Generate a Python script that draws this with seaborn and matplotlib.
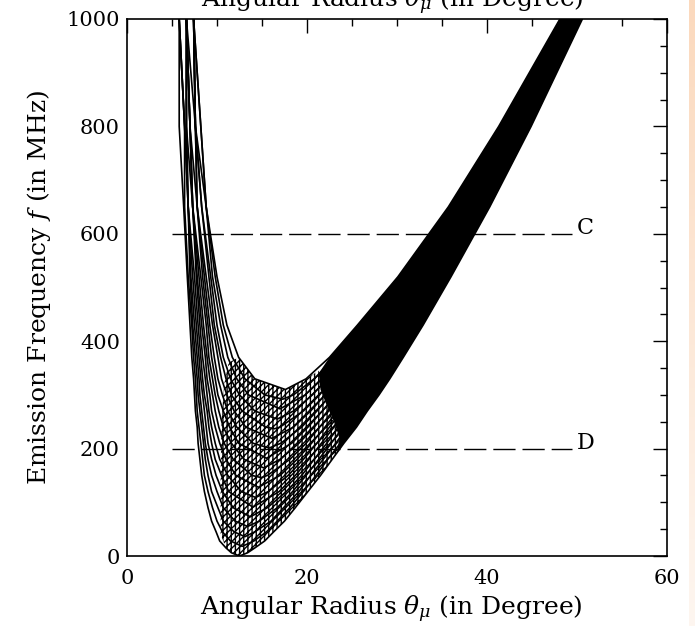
import numpy as np
import pandas as pd
import matplotlib
matplotlib.use('Agg')
import matplotlib.pyplot as plt
import seaborn as sns
from matplotlib.ticker import MultipleLocator

# ---------------- data (read / estimated from the reference) ----------------
# frequency levels (MHz) at which each curve's branches are sampled, top -> bottom
F_LEVELS = [1000, 800, 650, 520, 430, 370, 330, 300, 270, 240, 210, 180, 150, 120, 90, 65, 45, 28, 15, 6]

# minimum of each curve (angular radius in degree, frequency in MHz)
MIN_X = [12.5, 12.8, 13.1, 13.4, 13.7, 14.0, 14.3, 14.6, 14.9, 15.2, 15.5, 15.8, 16.1, 16.4, 16.7, 17.0, 17.3, 17.6]
MIN_F = [0, 18, 36, 55, 73, 91, 109, 128, 146, 164, 182, 201, 219, 237, 255, 274, 292, 310]

# left (descending) branch: angular radius at F_LEVELS (down to the curve minimum)
LEFT_X = [
    [5.8, 5.8, 6.3, 6.7, 7.0, 7.2, 7.4, 7.5, 7.6, 7.8, 7.9, 8.1, 8.3, 8.6, 9.0, 9.4, 9.9, 10.3, 11.0, 11.6],
    [5.8, 6.4, 6.4, 6.8, 7.2, 7.4, 7.6, 7.7, 7.8, 8.0, 8.2, 8.4, 8.6, 9.0, 9.5, 10.0, 10.6, 11.5],
    [5.8, 6.4, 6.8, 7.0, 7.3, 7.6, 7.8, 7.9, 8.1, 8.3, 8.5, 8.7, 9.0, 9.4, 10.1, 10.7, 11.9],
    [5.8, 6.4, 6.8, 7.1, 7.5, 7.8, 8.0, 8.1, 8.3, 8.5, 8.7, 9.0, 9.4, 10.0, 10.7, 12.0],
    [6.6, 6.6, 6.8, 7.3, 7.7, 8.0, 8.2, 8.4, 8.6, 8.8, 9.0, 9.4, 9.9, 10.6, 11.8],
    [6.6, 6.6, 6.8, 7.5, 7.9, 8.2, 8.4, 8.6, 8.9, 9.1, 9.4, 9.8, 10.5, 11.3],
    [6.6, 6.6, 7.3, 7.7, 8.1, 8.4, 8.7, 8.9, 9.1, 9.4, 9.8, 10.3, 11.2, 12.7],
    [6.6, 7.0, 7.3, 7.8, 8.3, 8.7, 8.9, 9.2, 9.4, 9.8, 10.3, 11.0, 12.1],
    [6.6, 7.0, 7.3, 8.0, 8.5, 8.9, 9.2, 9.5, 9.8, 10.2, 10.8, 11.8, 13.9],
    [6.6, 7.0, 7.3, 8.2, 8.8, 9.1, 9.5, 9.8, 10.2, 10.7, 11.6, 13.0],
    [6.6, 7.0, 7.8, 8.4, 9.0, 9.4, 9.8, 10.1, 10.7, 11.4, 12.4],
    [6.6, 7.6, 7.8, 8.6, 9.2, 9.7, 10.1, 10.6, 11.2, 12.2, 14.0],
    [7.4, 7.6, 7.8, 8.8, 9.5, 10.1, 10.5, 11.1, 11.9, 13.2],
    [7.4, 7.6, 8.3, 9.1, 9.7, 10.4, 11.0, 11.6, 12.8, 15.4],
    [7.4, 7.6, 8.3, 9.3, 10.0, 10.7, 11.5, 12.5, 14.2],
    [7.4, 7.6, 8.8, 9.5, 10.4, 11.2, 12.2, 13.5],
    [7.4, 8.2, 8.8, 9.8, 10.7, 11.7, 13.1, 15.3],
    [7.4, 8.2, 8.8, 10.0, 11.1, 12.4, 14.2],
]

# right (rising) branch: angular radius at F_LEVELS (same order, top -> bottom)
RIGHT_X = [
    [50.6, 44.9, 40.3, 36.0, 32.9, 30.7, 29.2, 28.0, 26.7, 25.5, 24.1, 22.8, 21.5, 20.1, 18.7, 17.5, 16.3, 15.3, 14.2, 13.4],
    [50.5, 44.7, 40.1, 35.7, 32.6, 30.4, 28.8, 27.6, 26.3, 25.0, 23.7, 22.3, 21.0, 19.6, 18.1, 16.7, 15.5, 14.1],
    [50.3, 44.5, 39.9, 35.5, 32.2, 30.0, 28.4, 27.1, 25.9, 24.5, 23.2, 21.8, 20.4, 19.1, 17.4, 16.0, 14.2],
    [50.2, 44.3, 39.6, 35.2, 31.9, 29.6, 28.0, 26.7, 25.4, 24.0, 22.7, 21.3, 19.9, 18.4, 16.7, 14.7],
    [50.0, 44.1, 39.4, 34.9, 31.6, 29.2, 27.6, 26.3, 24.9, 23.5, 22.2, 20.8, 19.4, 17.7, 15.6],
    [49.9, 43.9, 39.2, 34.6, 31.2, 28.8, 27.1, 25.8, 24.4, 23.0, 21.6, 20.2, 18.7, 16.9],
    [49.7, 43.7, 38.9, 34.3, 30.9, 28.4, 26.7, 25.3, 23.9, 22.5, 21.1, 19.6, 17.9, 15.7],
    [49.6, 43.5, 38.7, 34.0, 30.5, 28.0, 26.2, 24.8, 23.4, 22.0, 20.5, 18.9, 17.0],
    [49.4, 43.3, 38.4, 33.6, 30.1, 27.5, 25.7, 24.3, 22.9, 21.4, 19.9, 18.1, 15.6],
    [49.3, 43.1, 38.1, 33.3, 29.7, 27.0, 25.2, 23.7, 22.3, 20.8, 19.1, 17.0],
    [49.1, 42.9, 37.8, 32.9, 29.3, 26.5, 24.6, 23.2, 21.7, 20.1, 18.3],
    [49.0, 42.7, 37.6, 32.6, 28.8, 26.0, 24.1, 22.6, 21.1, 19.4, 17.1],
    [48.8, 42.5, 37.3, 32.2, 28.3, 25.5, 23.5, 22.0, 20.4, 18.5],
    [48.7, 42.2, 37.0, 31.9, 27.9, 24.9, 22.9, 21.4, 19.6, 17.0],
    [48.5, 42.0, 36.7, 31.5, 27.3, 24.4, 22.3, 20.6, 18.5],
    [48.4, 41.8, 36.3, 31.1, 26.8, 23.8, 21.7, 19.8],
    [48.2, 41.6, 36.0, 30.6, 26.2, 23.1, 20.8, 18.5],
    [48.1, 41.3, 35.7, 30.1, 25.6, 22.5, 19.9],
]

# region where the overlapping curves merge into solid black (inner and outer edge)
BAND_INNER_X = [48.1, 41.3, 35.7, 30.1, 25.6, 22.5, 21.3, 21.5, 22.2, 23.0, 23.6, 23.3]
BAND_INNER_F = [1000, 800, 650, 520, 430, 370, 340, 310, 280, 250, 220, 190]
BAND_OUTER_X = [50.6, 44.9, 40.3, 36.0, 32.9, 30.7, 29.2, 28.0, 26.7, 25.5, 24.1, 23.3]
BAND_OUTER_F = [1000, 800, 650, 520, 430, 370, 330, 300, 270, 240, 210, 190]

# region of densely crossing curves (lattice)
MESH_X = [12.4, 14.2, 17.6, 19.9, 21.3, 21.5, 22.2, 23.0, 23.6, 23.3, 22.8, 21.5, 20.1, 18.7,
          17.5, 16.3, 15.3, 14.2, 13.4, 12.5, 11.6, 11.0, 10.4, 10.4, 10.5, 10.8, 11.3]
MESH_F = [370, 330, 310, 330, 345, 310, 280, 250, 220, 190, 180, 150, 120, 90,
          65, 45, 28, 15, 6, 0, 6, 15, 40, 150, 250, 320, 360]

# horizontal reference frequencies
REF_F = [600, 200]
REF_LABELS = ['C', 'D']
REF_X = [5.0, 49.4]

XLABEL = r'Angular Radius $\theta_\mu$ (in Degree)'
YLABEL = r'Emission Frequency $f$ (in MHz)'

# ---------------- long-form table ----------------
rows = []
for k in range(len(MIN_X)):
    L = LEFT_X[k]
    R = RIGHT_X[k]
    n = len(L)
    order = 0
    for x, f in zip(L, F_LEVELS[:n]):
        rows.append((k, order, x, f)); order += 1
    rows.append((k, order, MIN_X[k], MIN_F[k])); order += 1
    for x, f in zip(R[::-1], F_LEVELS[:n][::-1]):
        rows.append((k, order, x, f)); order += 1
df = pd.DataFrame(rows, columns=['curve', 'order', 'x', 'f'])

# ---------------- figure ----------------
sns.set_theme(style='white')
plt.rcParams['font.family'] = ['DejaVu Serif']
plt.rcParams['mathtext.fontset'] = 'dejavuserif'
plt.rcParams['hatch.linewidth'] = 1.0
plt.rcParams['hatch.color'] = 'black'

fig = plt.figure(figsize=(6.95, 6.26), dpi=100)
fig.patch.set_facecolor('white')
ax = fig.add_axes([127/695, 70/626, 540/695, 537/626])
ax.set_facecolor('white')

# solid band and lattice
ax.fill(BAND_INNER_X + BAND_OUTER_X[::-1], BAND_INNER_F + BAND_OUTER_F[::-1],
        color='black', lw=0, zorder=1)
ax.fill(MESH_X, MESH_F, facecolor='none', edgecolor='black', hatch='||||/////',
        lw=0, zorder=1)

sns.lineplot(data=df, x='x', y='f', units='curve', estimator=None, sort=False,
             color='black', lw=1.2, ax=ax, legend=False, zorder=2)

for fv, lab in zip(REF_F, REF_LABELS):
    sns.lineplot(x=REF_X, y=[fv, fv], color='black', lw=1.0, ax=ax, linestyle=(0, (16, 5)))
    ax.text(50.0, fv, lab, ha='left', va='baseline', fontsize=16, color='black')

ax.set_xlim(0, 60)
ax.set_ylim(0, 1000)
ax.xaxis.set_major_locator(MultipleLocator(20))
ax.xaxis.set_minor_locator(MultipleLocator(5))
ax.yaxis.set_major_locator(MultipleLocator(200))
ax.yaxis.set_minor_locator(MultipleLocator(50))
ax.tick_params(which='both', direction='in', top=True, right=True, colors='black', labelsize=15)
ax.tick_params(which='major', length=10, width=1.0)
ax.tick_params(which='minor', length=5, width=1.0)
ax.tick_params(axis='x', pad=9)
ax.tick_params(axis='y', pad=5)
for s in ax.spines.values():
    s.set_linewidth(1.2)
    s.set_color('black')
    s.set_visible(True)
ax.grid(False)
ax.set_xlabel(XLABEL, fontsize=18, color='black')
ax.set_ylabel(YLABEL, fontsize=18, color='black')
ax.xaxis.set_label_coords(0.49, -0.070)
ax.yaxis.set_label_coords(-0.137, 0.5)

# top label, mostly cut off by the upper edge as in the reference
fig.text(392/695, 1 - 7/626, XLABEL, ha='center', va='baseline', fontsize=18, color='black')

# peach strip along the right edge
sax = fig.add_axes([689/695, 0, 6/695, 1])
grad = np.linspace(0, 1, 256)[:, None]
top = np.array([251, 217, 189]) / 255
bot = np.array([254, 246, 240]) / 255
img = top[None, None, :] * (1 - grad[:, :, None]) + bot[None, None, :] * grad[:, :, None]
sax.imshow(img, aspect='auto', extent=[0, 1, 0, 1], origin='upper')
sax.axis('off')

fig.savefig('out.png', dpi=100)
